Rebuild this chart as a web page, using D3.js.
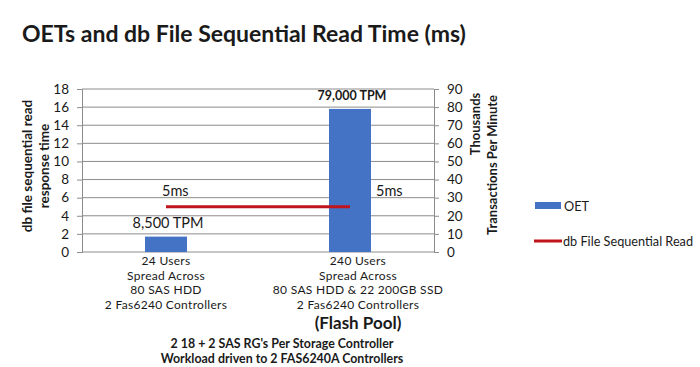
<!DOCTYPE html>
<html>
<head>
<meta charset="utf-8">
<script src="https://cdn.jsdelivr.net/npm/d3@7"></script>
<style>
  body { margin: 0; background: #fff; }
  svg text { font-family: Lato, "Open Sans", sans-serif; fill: #1a1a1a; }
</style>
</head>
<body>
<svg id="chart" width="700" height="367"></svg>
<script>
// data
const categories = ["A", "B"];
const categoryLines = [
  ["24 Users", "Spread Across", "80 SAS HDD", "2 Fas6240 Controllers"],
  ["240 Users", "Spread Across", "80 SAS HDD & 22 200GB SSD", "2 Fas6240 Controllers"]
];
const oetThousands = [8.5, 79];          // bars, right axis (thousands TPM)
const oetLabels = ["8,500 TPM", "79,000 TPM"];
const seqReadMs = [5, 5];                // line, left axis (ms)
const seqReadLabels = ["5ms", "5ms"];
const leftTicks = [0, 2, 4, 6, 8, 10, 12, 14, 16, 18];
const rightTicks = [0, 10, 20, 30, 40, 50, 60, 70, 80, 90];

const svg = d3.select("#chart");
const plotLeft = 82, plotRight = 434, plotTop = 89, plotBottom = 252;

const x = d3.scaleBand().domain(categories).range([plotLeft - 8, plotRight + 8]);
const yL = d3.scaleLinear().domain([0, 18]).range([plotBottom, plotTop]);
const yR = d3.scaleLinear().domain([0, 90]).range([plotBottom, plotTop]);
const barW = 42;
const cx = d => x(d) + x.bandwidth() / 2;

// title
svg.append("text").attr("x", 22).attr("y", 42)
  .attr("font-size", 23).attr("font-weight", "bold")
  .text("OETs and db File Sequential Read Time (ms)");

// gridlines
svg.append("g").selectAll("line").data(leftTicks.slice(1)).join("line")
  .attr("x1", plotLeft).attr("x2", plotRight)
  .attr("y1", d => yL(d)).attr("y2", d => yL(d))
  .attr("stroke", "#8c8c8c").attr("stroke-width", 1);

// left axis
const gl = svg.append("g").attr("transform", `translate(${plotLeft},0)`)
  .call(d3.axisLeft(yL).tickValues(leftTicks).tickSize(5).tickPadding(8));
gl.select(".domain").attr("stroke", "#8c8c8c");
gl.selectAll(".tick line").attr("stroke", "#8c8c8c");
gl.selectAll("text").attr("font-size", 13.5).attr("font-family", "Lato, sans-serif").attr("fill", "#1a1a1a");

// right axis
const gr = svg.append("g").attr("transform", `translate(${plotRight},0)`)
  .call(d3.axisRight(yR).tickValues(rightTicks).tickSize(5).tickPadding(8));
gr.select(".domain").attr("stroke", "#8c8c8c");
gr.selectAll(".tick line").attr("stroke", "#8c8c8c");
gr.selectAll("text").attr("font-size", 13.5).attr("font-family", "Lato, sans-serif").attr("fill", "#1a1a1a");

// bottom baseline
svg.append("line").attr("x1", plotLeft).attr("x2", plotRight)
  .attr("y1", plotBottom).attr("y2", plotBottom).attr("stroke", "#8c8c8c");

// bars
svg.append("g").selectAll("rect").data(categories).join("rect")
  .attr("x", d => cx(d) - barW / 2)
  .attr("width", barW)
  .attr("y", (d, i) => yR(oetThousands[i]))
  .attr("height", (d, i) => plotBottom - yR(oetThousands[i]))
  .attr("fill", "#4472c4");

// bar labels
svg.append("g").selectAll("text").data(categories).join("text")
  .attr("x", d => cx(d) + 2)
  .attr("y", (d, i) => yR(oetThousands[i]) - 9)
  .attr("text-anchor", "middle")
  .attr("font-size", (d, i) => i === 1 ? 12.5 : 14.5)
  .attr("font-weight", (d, i) => i === 1 ? "bold" : "normal")
  .text((d, i) => oetLabels[i]);

// line
const line = d3.line().x((d, i) => cx(categories[i])).y(d => yL(d));
svg.append("path").datum(seqReadMs).attr("d", line)
  .attr("fill", "none").attr("stroke", "#c0141c").attr("stroke-width", 3);

// line labels
svg.append("g").selectAll("text").data(categories).join("text")
  .attr("x", (d, i) => i === 0 ? cx(d) - 4 : cx(d) + 26)
  .attr("y", (d, i) => yL(seqReadMs[i]) - 11)
  .attr("font-size", 14.5)
  .text((d, i) => seqReadLabels[i]);

// category labels
categories.forEach((c, i) => {
  categoryLines[i].forEach((s, j) => {
    svg.append("text").attr("text-anchor", "middle").attr("font-size", 12)
      .attr("letter-spacing", 0.3)
      .attr("x", cx(c) + (i === 0 ? 0 : 8))
      .attr("y", 265 + j * 14.5)
      .text(s);
  });
});
svg.append("text").attr("x", cx(categories[1]) + 8).attr("y", 329)
  .attr("text-anchor", "middle").attr("font-size", 17).attr("font-weight", "bold")
  .text("(Flash Pool)");

// footer
svg.append("text").attr("x", 282).attr("y", 348)
  .attr("text-anchor", "middle").attr("font-size", 12.4).attr("font-weight", "bold")
  .text("2 18 + 2 SAS RG's  Per Storage Controller");
svg.append("text").attr("x", 282).attr("y", 363)
  .attr("text-anchor", "middle").attr("font-size", 12.4).attr("font-weight", "bold")
  .text("Workload  driven to 2 FAS6240A Controllers");

// left axis title
const lt = svg.append("text").attr("transform", "translate(32,166) rotate(-90)")
  .attr("text-anchor", "middle").attr("font-size", 13.5).attr("font-weight", "bold");
lt.append("tspan").attr("x", 0).attr("y", 0).text("db file sequential read");
lt.append("tspan").attr("x", 0).attr("y", 16.5).text("response time");

// right axis titles
svg.append("text").attr("transform", "translate(480,124) rotate(-90)")
  .attr("text-anchor", "middle").attr("font-size", 13).attr("font-weight", "bold")
  .text("Thousands");
svg.append("text").attr("transform", "translate(497,165) rotate(-90)")
  .attr("text-anchor", "middle").attr("font-size", 13).attr("font-weight", "bold")
  .text("Transactions  Per Minute");

// legend
const lg = svg.append("g");
lg.append("rect").attr("x", 535).attr("y", 202).attr("width", 26).attr("height", 7).attr("fill", "#4472c4");
lg.append("text").attr("x", 564).attr("y", 211).attr("font-size", 12.7).text("OET");
lg.append("line").attr("x1", 534).attr("x2", 562).attr("y1", 241).attr("y2", 241)
  .attr("stroke", "#c0141c").attr("stroke-width", 3);
lg.append("text").attr("x", 563).attr("y", 245.5).attr("font-size", 12.7).text("db File Sequential Read");
</script>
</body>
</html>
